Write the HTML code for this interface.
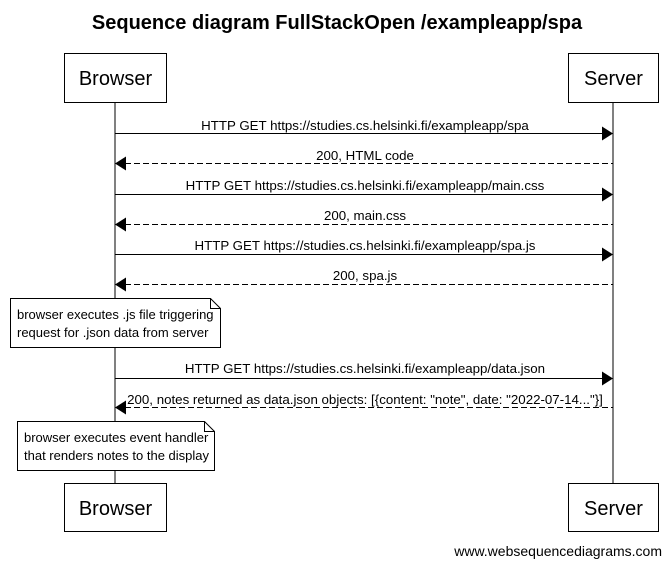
<!DOCTYPE html>
<html><head><meta charset="utf-8"><style>
html,body{margin:0;padding:0;background:#fff;}
svg{display:block;font-family:"Liberation Sans",Arial,sans-serif;}
</style></head><body>
<svg width="672" height="566" viewBox="0 0 672 566" xmlns="http://www.w3.org/2000/svg">
<text x="337" y="29" font-size="20" font-weight="bold" text-anchor="middle">Sequence diagram FullStackOpen /exampleapp/spa</text>
<line x1="115" y1="102" x2="115" y2="483" stroke="#000" stroke-width="1"/>
<line x1="613" y1="102" x2="613" y2="483" stroke="#000" stroke-width="1"/>
<g fill="#fff" stroke="#000" stroke-width="1">
<rect x="64.5" y="53.5" width="102" height="49"/>
<rect x="568.5" y="53.5" width="90" height="49"/>
<rect x="64.5" y="483.5" width="102" height="48"/>
<rect x="568.5" y="483.5" width="90" height="48"/>
</g>
<g font-size="20" text-anchor="middle">
<text x="115.5" y="85">Browser</text>
<text x="613.5" y="85">Server</text>
<text x="115.5" y="515">Browser</text>
<text x="613.5" y="515">Server</text>
</g>
<g stroke="#000" stroke-width="1">
<line x1="115" y1="133.5" x2="603" y2="133.5"/>
<line x1="125" y1="163.5" x2="613" y2="163.5" stroke-dasharray="6,3"/>
<line x1="115" y1="194.5" x2="603" y2="194.5"/>
<line x1="125" y1="224.5" x2="613" y2="224.5" stroke-dasharray="6,3"/>
<line x1="115" y1="254.5" x2="603" y2="254.5"/>
<line x1="125" y1="284.5" x2="613" y2="284.5" stroke-dasharray="6,3"/>
<line x1="115" y1="378.5" x2="603" y2="378.5"/>
<line x1="125" y1="407.5" x2="613" y2="407.5" stroke-dasharray="6,3"/>
</g>
<g fill="#000">
<polygon points="613,133.5 602,126.5 602,140.5"/>
<polygon points="115,163.5 126,156.5 126,170.5"/>
<polygon points="613,194.5 602,187.5 602,201.5"/>
<polygon points="115,224.5 126,217.5 126,231.5"/>
<polygon points="613,254.5 602,247.5 602,261.5"/>
<polygon points="115,284.5 126,277.5 126,291.5"/>
<polygon points="613,378.5 602,371.5 602,385.5"/>
<polygon points="115,407.5 126,400.5 126,414.5"/>
</g>
<g font-size="13.3" text-anchor="middle">
<text x="365" y="130">HTTP GET https://studies.cs.helsinki.fi/exampleapp/spa</text>
<text x="365" y="160">200, HTML code</text>
<text x="365" y="190">HTTP GET https://studies.cs.helsinki.fi/exampleapp/main.css</text>
<text x="365" y="220">200, main.css</text>
<text x="365" y="250">HTTP GET https://studies.cs.helsinki.fi/exampleapp/spa.js</text>
<text x="365" y="280">200, spa.js</text>
<text x="365" y="373">HTTP GET https://studies.cs.helsinki.fi/exampleapp/data.json</text>
<text x="365" y="404">200, notes returned as data.json objects: [{content: "note", date: "2022-07-14..."}]</text>
</g>
<g fill="#fff" stroke="#000" stroke-width="1">
<path d="M10.5,298.5 H210.5 L220.5,308.5 V347.5 H10.5 Z"/>
<path d="M210.5,298.5 V308.5 H220.5" fill="none"/>
<path d="M17.5,421.5 H204.5 L214.5,431.5 V470.5 H17.5 Z"/>
<path d="M204.5,421.5 V431.5 H214.5" fill="none"/>
</g>
<g font-size="13">
<text x="17" y="319">browser executes .js file triggering</text>
<text x="17" y="337">request for .json data from server</text>
<text x="24" y="442">browser executes event handler</text>
<text x="24" y="460">that renders notes to the display</text>
</g>
<text x="662" y="556" font-size="14" text-anchor="end">www.websequencediagrams.com</text>
</svg>
</body></html>
